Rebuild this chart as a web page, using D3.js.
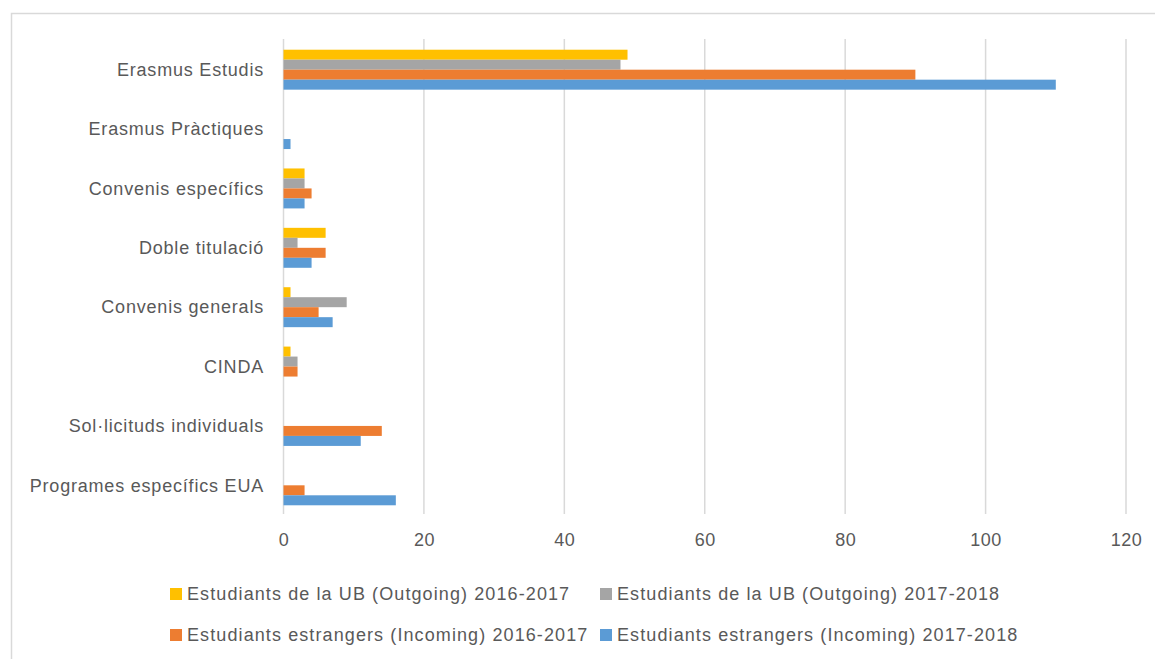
<!DOCTYPE html>
<html>
<head>
<meta charset="utf-8">
<script src="https://cdn.jsdelivr.net/npm/d3@7"></script>
<style>
    body { margin: 0; background: #fff; }
    svg text { font-family: "Liberation Sans", Arial, sans-serif; fill: #595959; }
</style>
</head>
<body>
<div id="chart"></div>
<script>
const width = 1155;
const height = 659;

const categories = [
    "Erasmus Estudis",
    "Erasmus Pràctiques",
    "Convenis específics",
    "Doble titulació",
    "Convenis generals",
    "CINDA",
    "Sol·licituds individuals",
    "Programes específics EUA"
];

const seriesNames = [
    "Estudiants de la UB (Outgoing) 2016-2017",
    "Estudiants de la UB (Outgoing) 2017-2018",
    "Estudiants estrangers (Incoming) 2016-2017",
    "Estudiants estrangers (Incoming) 2017-2018"
];

const outgoing1617 = [49, 0, 3, 6, 1, 1, 0, 0];
const outgoing1718 = [48, 0, 3, 2, 9, 2, 0, 0];
const incoming1617 = [90, 0, 4, 6, 5, 2, 14, 3];
const incoming1718 = [110, 1, 3, 4, 7, 0, 11, 16];

const xTicks = [0, 20, 40, 60, 80, 100, 120];
const colors = ["#FFC000", "#A5A5A5", "#ED7D31", "#5B9BD5"];

const seriesValues = [outgoing1617, outgoing1718, incoming1617, incoming1718];

const svg = d3.select("#chart")
    .append("svg")
    .attr("width", width)
    .attr("height", height);

// chart border
svg.append("rect")
    .attr("x", 11.5)
    .attr("y", 13.5)
    .attr("width", width)
    .attr("height", height)
    .attr("fill", "none")
    .attr("stroke", "#d9d9d9")
    .attr("stroke-width", 1.5);

const plot = { left: 283.5, right: 1126, top: 40, bottom: 515 };

const x = d3.scaleLinear()
    .domain([0, 120])
    .range([plot.left, plot.right]);

const y = d3.scaleBand()
    .domain(categories)
    .range([plot.top, plot.bottom])
    .paddingInner(0.327)
    .paddingOuter(0.1635);

const ySeries = d3.scaleBand()
    .domain(d3.range(seriesNames.length))
    .range([0, y.bandwidth()]);

// gridlines
svg.append("g")
    .selectAll("line")
    .data(xTicks)
    .enter().append("line")
    .attr("x1", d => x(d))
    .attr("x2", d => x(d))
    .attr("y1", plot.top - 1)
    .attr("y2", plot.bottom - 1)
    .attr("stroke", "#d9d9d9")
    .attr("stroke-width", 1.5);

// x axis labels
const xAxis = svg.append("g")
    .attr("transform", `translate(0,${plot.bottom})`)
    .call(d3.axisBottom(x).tickValues(xTicks).tickSize(0).tickPadding(18));
xAxis.select(".domain").remove();
xAxis.selectAll("text")
    .attr("font-size", 18)
    .attr("font-family", null)
    .style("letter-spacing", "0.5px");

// category labels
svg.append("g")
    .selectAll("text")
    .data(categories)
    .enter().append("text")
    .attr("x", 264)
    .attr("y", d => y(d) + y.bandwidth() / 2)
    .attr("dy", "0.35em")
    .attr("text-anchor", "end")
    .attr("font-size", 18)
    .style("letter-spacing", "0.8px")
    .text(d => d);

// bars
const groups = svg.append("g")
    .selectAll("g")
    .data(seriesValues)
    .enter().append("g")
    .attr("fill", (d, i) => colors[i]);

groups.each(function(vals, si) {
    d3.select(this).selectAll("rect")
        .data(vals.map((v, ci) => ({ v, cat: categories[ci] })).filter(d => d.v > 0))
        .enter().append("rect")
        .attr("x", x(0))
        .attr("y", d => y(d.cat) + ySeries(si))
        .attr("width", d => x(d.v) - x(0))
        .attr("height", ySeries.bandwidth());
});

// legend
const legendPos = [
    { x: 170, y: 594 },
    { x: 600, y: 594 },
    { x: 170, y: 635 },
    { x: 600, y: 635 }
];

const legend = svg.append("g")
    .selectAll("g")
    .data(seriesNames)
    .enter().append("g")
    .attr("transform", (d, i) => `translate(${legendPos[i].x},${legendPos[i].y})`);

legend.append("rect")
    .attr("x", 0)
    .attr("y", -6)
    .attr("width", 12)
    .attr("height", 12)
    .attr("fill", (d, i) => colors[i]);

legend.append("text")
    .attr("x", 17)
    .attr("dy", "0.35em")
    .attr("font-size", 18)
    .style("letter-spacing", "1.1px")
    .text(d => d);
</script>
</body>
</html>
